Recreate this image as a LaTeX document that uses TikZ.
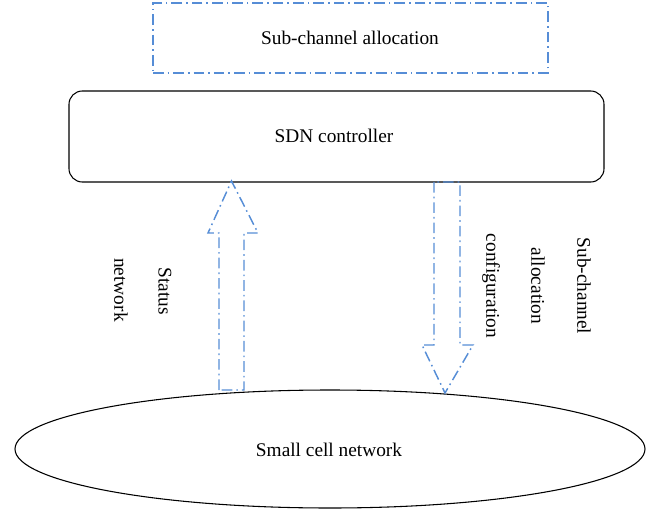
\documentclass[tikz,border=0pt]{standalone}
\usepackage{fontspec}
\setmainfont{Liberation Serif}
\usetikzlibrary{shapes.geometric}
\definecolor{dashblue}{RGB}{86,141,214}
\begin{document}
\begin{tikzpicture}[x=0.75pt,y=-0.75pt,
  lbl/.style={font=\fontsize{14.5}{17}\selectfont, inner sep=0pt},
  vlbl/.style={lbl, rotate=-90},
  dd/.style={draw=dashblue, line width=1.1pt, dash pattern=on 8pt off 3pt on 1.2pt off 3pt}]
\useasboundingbox (0,0) rectangle (648,509);
% top dash-dot box
\node[dd, minimum width=395*0.75pt, minimum height=70*0.75pt, inner sep=0pt] (alloc) at (350.5,38) {};
\node[lbl] (alloctext) at (350,38) {Sub-channel allocation};
% SDN controller
\node[draw, line width=0.8pt, rounded corners=10pt, minimum width=535*0.75pt, minimum height=91*0.75pt, inner sep=0pt] (sdn) at (336.5,136.5) {};
\node[lbl] (sdntext) at (334,136) {SDN controller};
% ellipse
\node[draw, line width=0.8pt, ellipse, minimum width=630*0.75pt, minimum height=118*0.75pt, inner sep=0pt] (scn) at (330,449) {};
\node[lbl] (scntext) at (329,450) {Small cell network};
% up arrow
\coordinate (u1) at (219,390);
\coordinate (u2) at (219,233);
\coordinate (u3) at (208,233);
\coordinate (u4) at (231.5,181);
\coordinate (u5) at (258,233);
\coordinate (u6) at (244,233);
\coordinate (u7) at (244,390);
\draw[dd] (u1) -- (u2) -- (u3) -- (u4) -- (u5) -- (u6) -- (u7) -- cycle;
% down arrow
\coordinate (d1) at (434,182);
\coordinate (d2) at (434,345);
\coordinate (d3) at (422,345);
\coordinate (d4) at (445,393);
\coordinate (d5) at (473,345);
\coordinate (d6) at (460,345);
\coordinate (d7) at (460,182);
\draw[dd] (d1) -- (d2) -- (d3) -- (d4) -- (d5) -- (d6) -- (d7) -- cycle;
% rotated labels
\node[vlbl] (status) at (165,291) {Status};
\node[vlbl] (network) at (121,290) {network};
\node[vlbl] (subch) at (584,286) {Sub-channel};
\node[vlbl] (allocl) at (538,286) {allocation};
\node[vlbl] (config) at (491,286) {configuration};
\end{tikzpicture}
\end{document}
